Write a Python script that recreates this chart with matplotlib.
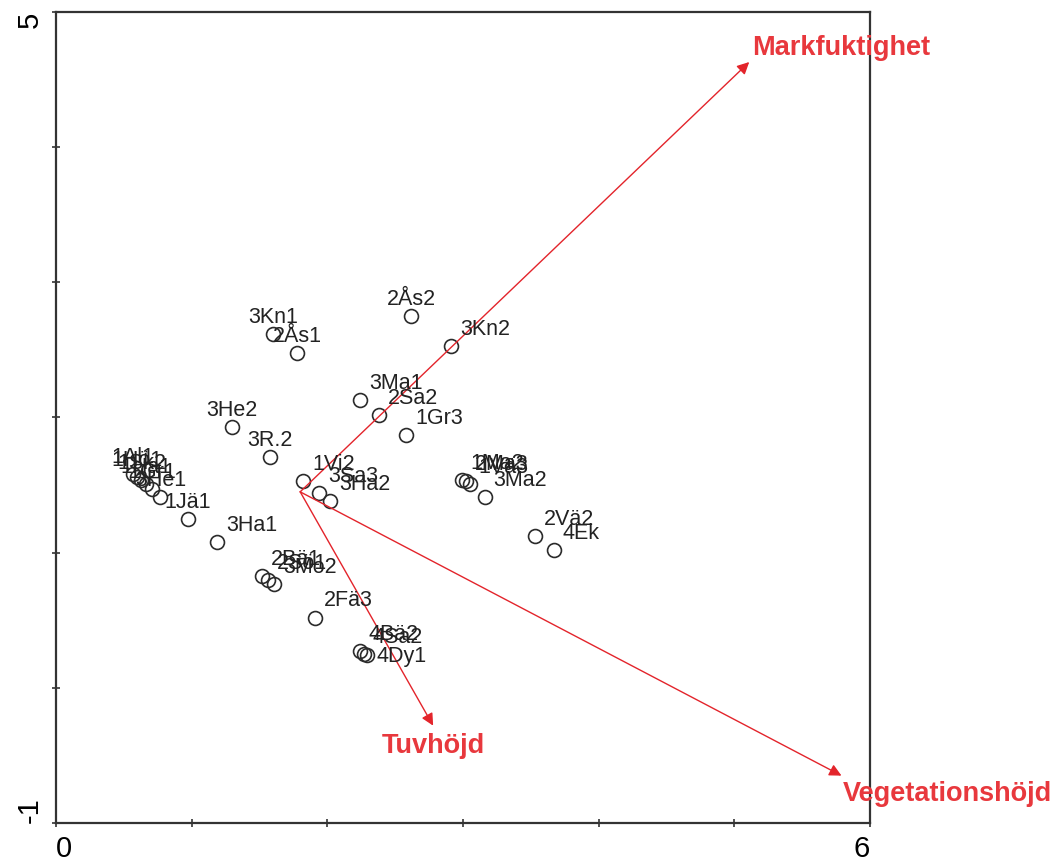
import matplotlib
matplotlib.use("Agg")
import matplotlib.pyplot as plt

plt.rcParams['font.family'] = ['Liberation Sans', 'DejaVu Sans']

# provytor (site scores)
site_labels = ["2Ås2", "3Kn2", "3Kn1", "2Ås1", "3Ma1", "2Sa2", "1Gr3", "3He2",
               "3R.2", "1Vi2", "3Sa3", "3Ha2", "1Ma2", "2Ma3", "1Vä3", "3Ma2",
               "2Vä2", "4Ek", "3Ha1", "1Jä1", "1Al1", "1Hö1", "1Sk2", "1Ha1",
               "1Gr1", "3He1", "2Bä1", "2Sö1", "3Mo2", "2Fä3", "4Bä2", "4Sa2",
               "4Dy1"]
site_x = [2.62, 2.91, 1.60, 1.78, 2.24, 2.38, 2.58, 1.30,
          1.58, 1.82, 1.94, 2.02, 2.99, 3.02, 3.05, 3.16,
          3.53, 3.67, 1.19, 0.97, 0.57, 0.60, 0.63, 0.66,
          0.71, 0.77, 1.52, 1.56, 1.61, 1.91, 2.24, 2.27,
          2.29]
site_y = [2.75, 2.53, 2.62, 2.48, 2.13, 2.02, 1.87, 1.93,
          1.71, 1.53, 1.44, 1.38, 1.54, 1.53, 1.51, 1.41,
          1.12, 1.02, 1.08, 1.25, 1.58, 1.56, 1.54, 1.51,
          1.47, 1.41, 0.83, 0.80, 0.77, 0.52, 0.27, 0.25,
          0.24]

# miljövariabler (arrows)
env_labels = ["Markfuktighet", "Tuvhöjd", "Vegetationshöjd"]
env_origin = (1.80, 1.45)
env_x = [5.11, 2.78, 5.79]
env_y = [4.63, -0.28, -0.65]

# etikettplacering: ur = upp till höger, up = centrerad ovanför, r = höger
label_place = {"2Ås2": "up", "3Kn1": "up", "2Ås1": "up", "3He2": "up",
               "3R.2": "up", "1Jä1": "up", "1Al1": "up", "1Hö1": "up",
               "1Sk2": "up", "1Ha1": "up", "1Gr1": "up", "3He1": "up",
               "4Dy1": "r"}
place_style = {"ur": dict(xytext=(6.5, 8), ha="left", va="baseline"),
               "up": dict(xytext=(0, 8), ha="center", va="baseline"),
               "r": dict(xytext=(7, -5), ha="left", va="baseline")}
env_style = [dict(xytext=(2, 5), ha="left", va="baseline"),
             dict(xytext=(0, -5), ha="center", va="top"),
             dict(xytext=(1, -4), ha="left", va="top")]

red = "#e3242b"
red_text = "#e8383d"

fig = plt.figure(figsize=(10.58, 8.65), dpi=100)
ax = fig.add_axes([0.0529, 0.0486, 0.7694, 0.9375])

# pilar
for i in range(len(env_labels)):
    ax.annotate("", xy=(env_x[i], env_y[i]), xytext=env_origin,
                arrowprops=dict(arrowstyle="-|>", color=red, lw=1.0,
                                mutation_scale=18, shrinkA=0, shrinkB=0))
    ax.annotate(env_labels[i], xy=(env_x[i], env_y[i]),
                textcoords="offset points", fontsize=19.5,
                fontweight="bold", color=red_text, annotation_clip=False,
                **env_style[i])

# punkter
ax.plot(site_x, site_y, "o", ms=10, mfc="none", mec="#2b2b2b", mew=1.2)
for i in range(len(site_labels)):
    st = place_style[label_place.get(site_labels[i], "ur")]
    ax.annotate(site_labels[i], xy=(site_x[i], site_y[i]),
                textcoords="offset points", fontsize=15.5, color="#222222",
                **st)

# axlar
ax.set_xlim(0, 6)
ax.set_ylim(-1, 5)
ax.set_xticks(range(0, 7))
ax.set_xticklabels(["0", "", "", "", "", "", "6"])
ax.set_yticks(range(-1, 6))
ax.set_yticklabels(["-1", "", "", "", "", "", "5"], rotation=90)
ax.tick_params(direction="inout", length=6, width=1.2, pad=6,
               labelsize=21, color="#333333")
for sp in ax.spines.values():
    sp.set_linewidth(1.6)
    sp.set_color("#333333")
xl = ax.get_xticklabels()
xl[0].set_ha("left")
xl[-1].set_ha("right")
yl = ax.get_yticklabels()
yl[0].set_va("bottom")
yl[-1].set_va("top")

plt.savefig("out.png", dpi=100)
plt.close(fig)
